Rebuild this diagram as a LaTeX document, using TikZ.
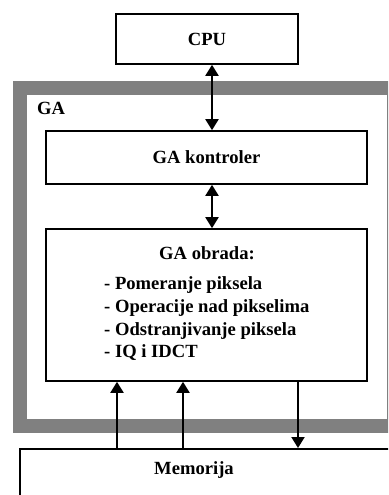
\documentclass[tikz,border=0pt]{standalone}
\usepackage{fontspec}
\setmainfont{Liberation Serif}
\usetikzlibrary{arrows.meta}
\definecolor{frameg}{RGB}{128,128,128}
\begin{document}
\begin{tikzpicture}[x=1pt, y=-1pt, font=\fontsize{18.6}{22.7}\selectfont\bfseries]

    \tikzstyle{block} = [draw, line width=1.6pt, rectangle, text centered, inner sep=0];
    \tikzstyle{arrow} = [line width=2pt, -{Triangle[width=13pt,length=11pt]}];
    \tikzstyle{darrow} = [line width=2pt, {Triangle[width=13pt,length=11pt]}-{Triangle[width=13pt,length=11pt]}];

    \useasboundingbox (0,0) rectangle (388,495);
    \clip (0,0) rectangle (388,495);

    % GA frame
    \draw [frameg, line width=14pt] (20,87.5) rectangle (394,425.5);
    \node[anchor=west, inner sep=0] (GA) at (37,108.5) {GA};

    % Top
    \node[block, minimum width=182, minimum height=50] (CPU) at (207,39) {CPU};
    \node[block, minimum width=321, minimum height=53] (KON) at (206.5,157.5) {GA kontroler};

    % Middle
    \node[block, minimum width=321, minimum height=152] (OBR) at (206.5,305) {};
    \node (OBRT) at (207,253) {GA obrada:};
    \node[anchor=west, align=left, inner sep=0] (OBRL) at (104,319)
    {- Pomeranje piksela\\- Operacije nad pikselima\\- Odstranjivanje piksela\\- IQ i IDCT};

    % Bottom
    \node[block, anchor=north west, minimum width=400, minimum height=80] (MEM) at (19,448) {};
    \node (MEMT) at (194,470) {Memorija};

    \draw [darrow] ([xshift=5pt]CPU.south) -- ([xshift=5.5pt]KON.north);
    \draw [darrow] ([xshift=5.5pt]KON.south) -- ([xshift=5.5pt]OBR.north);

    \draw [arrow] ([xshift=-89.5pt]OBR.south |- MEM.north) -- ([xshift=-89.5pt]OBR.south);
    \draw [arrow] ([xshift=-23.5pt]OBR.south |- MEM.north) -- ([xshift=-23.5pt]OBR.south);
    \draw [arrow] ([xshift=91.5pt]OBR.south) -- ([xshift=91.5pt]OBR.south |- MEM.north);

\end{tikzpicture}
\end{document}
